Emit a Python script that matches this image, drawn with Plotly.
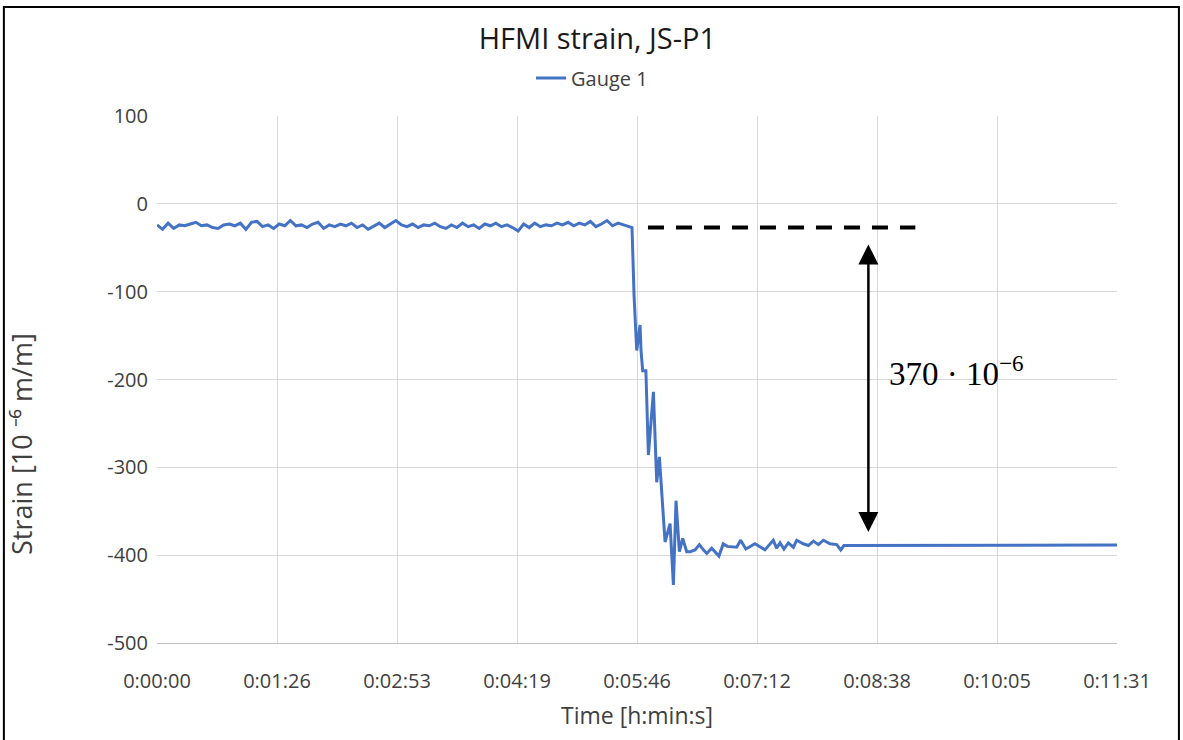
import plotly.graph_objects as go

# ---------------- data ----------------
# time in seconds, strain in 10^-6 m/m
t_flat = [0, 4, 8, 12, 16, 20, 24, 28, 32, 36, 40, 44, 48, 52, 56, 60, 64, 68, 72, 76,
          80, 84, 88, 92, 96, 100, 104, 108, 112, 116, 120, 124, 128, 132, 136, 140, 144, 148, 152, 156,
          160, 164, 168, 172, 176, 180, 184, 188, 192, 196, 200, 204, 208, 212, 216, 220, 224, 228, 232, 236,
          240, 244, 248, 252, 256, 260, 264, 268, 272, 276, 280, 284, 288, 292, 296, 300, 304, 308, 312, 316,
          320, 324, 328, 332, 336, 340, 342]
v_flat = [-24, -29, -22, -28, -24, -25, -23, -21, -25, -24, -27, -28, -24, -23, -25, -22, -29, -21, -20, -26,
          -24, -28, -23, -25, -19, -25, -24, -27, -23, -21, -28, -24, -26, -23, -25, -22, -27, -24, -29, -25,
          -22, -27, -23, -19, -24, -26, -23, -27, -24, -25, -22, -26, -28, -24, -27, -22, -26, -24, -28, -23,
          -25, -22, -26, -24, -27, -31, -23, -27, -22, -26, -24, -25, -22, -24, -21, -25, -22, -24, -20, -26,
          -23, -19, -25, -22, -24, -26, -27]

t_drop = [343.5, 345.4, 347.8, 348.5, 349.7, 352.0, 353.8, 357.4, 359.8, 361.7, 365.8, 369.4, 371.8,
          373.7, 376.1, 378.5, 381.4]
v_drop = [-105, -167, -138, -167, -190, -190, -286, -214, -317, -288, -385, -364, -434,
          -338, -396, -381, -396]

t_settle = [383.8, 387.4, 390.5, 393.4, 395.8, 399.4, 404.6, 407.7, 410.6, 417.4, 420.2, 424.0, 430.5,
            437.7, 443.7, 446.1, 448.6, 451.4, 454.5, 458.2, 460.6, 465.3, 469.0, 472.6, 476.2, 479.8,
            484.6, 489.4, 492.3, 494.6, 691.2]
v_settle = [-396, -394, -388, -394, -398, -392, -401, -387, -390, -391, -383, -393, -387,
            -394, -383, -392, -386, -393, -386, -391, -383, -387, -389, -384, -388, -383,
            -387, -388, -394, -389, -388.5]

time_s = t_flat + t_drop + t_settle
strain = v_flat + v_drop + v_settle

tick_vals = [0, 86.4, 172.8, 259.2, 345.6, 432.0, 518.4, 604.8, 691.2]
tick_text = ["0:00:00", "0:01:26", "0:02:53", "0:04:19", "0:05:46", "0:07:12", "0:08:38", "0:10:05", "0:11:31"]
y_ticks = [100, 0, -100, -200, -300, -400, -500]
y_tick_text = ["100", "0", "-100", "-200", "-300", "-400", "-500"]

ref_level = -27          # dashed reference line
final_level = -373.7     # lower arrow tip
top_arrow = -44.5        # upper arrow tip
arrow_t = 512.2
dash_t0, dash_t1 = 353.5, 546.0
label_t, label_v = 525.4, -190
label_text = "370 · 10<sup>−6</sup>"

# ---------------- figure ----------------
FONT = "Open Sans"
GREY = "#404040"
fig = go.Figure()
fig.add_trace(go.Scatter(x=time_s, y=strain, mode="lines", name="Gauge 1",
                         line=dict(color="#4472C4", width=3)))

fig.update_layout(
    width=1183, height=740,
    margin=dict(l=157, r=66, t=116, b=97, autoexpand=False),
    paper_bgcolor="white", plot_bgcolor="white",
    title=dict(text="HFMI strain, JS-P1", x=0.505, xanchor="center", y=0.948, yanchor="middle",
               font=dict(family=FONT, size=29, color="#1a1a1a")),
    legend=dict(orientation="h", x=0.3896, xanchor="left", y=1.072, yanchor="middle",
                font=dict(family=FONT, size=20, color=GREY)),
    showlegend=True,
    font=dict(family=FONT, color=GREY),
)
fig.update_xaxes(range=[0, 691.2], tickvals=tick_vals, ticktext=tick_text, tickangle=0,
                 showgrid=True, gridcolor="#d9d9d9", gridwidth=1,
                 showline=True, linecolor="#bfbfbf", linewidth=1, zeroline=False,
                 ticks="", ticklabelstandoff=20, tickfont=dict(family=FONT, size=20, color=GREY),
                 title=dict(text="Time [h:min:s]", font=dict(family=FONT, size=23, color=GREY), standoff=14))
fig.update_yaxes(range=[-500, 100], tickvals=y_ticks, ticktext=y_tick_text,
                 showgrid=True, gridcolor="#d9d9d9", gridwidth=1, zeroline=False,
                 showline=False, ticks="", ticklabelstandoff=8, tickfont=dict(family=FONT, size=20, color=GREY))

# y-axis title (placed where the reference has it)
fig.add_annotation(text="Strain [10 ⁻⁶ m/m]", xref="paper", yref="paper", x=-0.141, y=0.377,
                   xanchor="center", yanchor="middle", textangle=-90, showarrow=False,
                   font=dict(family=FONT, size=27, color=GREY))

# dashed reference line
fig.add_shape(type="line", xref="x", yref="y", x0=dash_t0, x1=dash_t1, y0=ref_level, y1=ref_level,
              line=dict(color="black", width=4, dash="16px,12px"))
# double arrow
fig.add_annotation(x=arrow_t, y=final_level, ax=arrow_t, ay=top_arrow, xref="x", yref="y",
                   axref="x", ayref="y", text="", showarrow=True, arrowhead=2, arrowside="end+start",
                   arrowsize=1.6, arrowwidth=2.5, arrowcolor="black", standoff=0, startstandoff=0)
fig.add_annotation(x=label_t, y=label_v, xref="x", yref="y", text=label_text, showarrow=False,
                   xanchor="left", yanchor="middle",
                   font=dict(family="Liberation Serif", size=33, color="black"))
# outer frame
fig.add_shape(type="rect", xref="paper", yref="paper", x0=-0.1595, x1=1.0645, y0=-0.35, y1=1.2068,
              line=dict(color="black", width=2), fillcolor="rgba(0,0,0,0)", layer="above")

fig.write_html("out.html", config={"displayModeBar": False},
               post_script="document.body.style.margin='0';")
